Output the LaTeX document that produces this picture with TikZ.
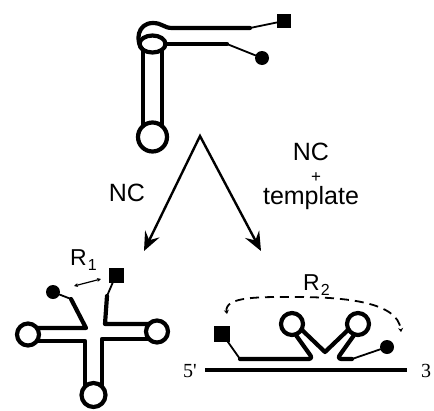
\documentclass[tikz,border=0pt]{standalone}
\usepackage{fontspec}
\setmainfont{Liberation Sans}
\newfontfamily\endfont{Liberation Serif}
\usetikzlibrary{arrows.meta}
\begin{document}
\begin{tikzpicture}[x=1pt,y=-1pt,
  strand/.style={line width=4.2pt, line join=round, line cap=round},
  tether/.style={line width=1.8pt, line cap=round},
  endsquare/.style={fill=black, draw=none, minimum size=14pt, inner sep=0pt, outer sep=0pt},
  enddot/.style={circle, fill=black, draw=none, minimum size=14pt, inner sep=0pt, outer sep=0pt},
  fork/.style={line width=2.4pt, line join=miter,
    {Stealth[length=19pt,width=16pt,inset=7pt]}-{Stealth[length=19pt,width=16pt,inset=7pt]}},
  bigtext/.style={font=\fontsize{25}{22}\selectfont, inner sep=0pt},
  rlabel/.style={font=\fontsize{23}{23}\selectfont, inner sep=0pt, anchor=base west},
  endlabel/.style={font=\endfont\fontsize{20}{20}\selectfont, inner sep=0pt},
  span/.style={line width=1.8pt, dash pattern=on 9pt off 6pt, line cap=butt,
    {Stealth[length=4pt,width=5pt]}-{Stealth[length=4pt,width=5pt]}},
  tiny/.style={line width=1.2pt, {Stealth[length=4pt,width=4pt]}-{Stealth[length=4pt,width=4pt]}}]
\useasboundingbox (0,0) rectangle (434,410);

% ---------- precursor hairpin ----------
\node[endsquare] (sqA) at (284,21) {};
\node[enddot] (dotA) at (262,58) {};
\draw[strand] (143,50) -- (143,126);
\draw[strand] (162,50) -- (162,126);
\draw[strand] (152.5,137) circle[radius=14.5pt];
\draw[strand] (152.5,44) ellipse[x radius=13pt, y radius=8.5pt];
\coordinate (armA) at (250,28);
\coordinate (armB) at (227,44);
\draw[strand] (143,50) .. controls (135,42) and (137,23) .. (153,23)
  .. controls (162,23) and (164,28) .. (172,28) -- (armA);
\draw[strand] (165.5,44) -- (armB);
\draw[tether] (armA) -- (sqA);
\draw[tether] (armB) -- (dotA);

% ---------- reaction arrows ----------
\coordinate (apex) at (200,136);
\coordinate (tipL) at (144,251);
\coordinate (tipR) at (261,251);
\draw[fork] (tipL) -- (apex) -- (tipR);
\node[bigtext, anchor=base] (ncL) at (127,201) {NC};
\node[bigtext, align=center] (ncR) at (311,176.7)
  {NC\\\hspace*{10pt}{\fontsize{17}{22}\selectfont +}\\template};

% ---------- cloverleaf product ----------
\node[enddot] (dotB) at (53,292) {};
\node[endsquare, minimum size=15pt] (sqB) at (116,275) {};
\coordinate (lb) at (71,299);
\coordinate (rb) at (107,296);
\draw[tether] (dotB) -- (lb);
\draw[strand] (lb) -- (86,328) -- (37,328);
\draw[strand] (28,334.5) circle[radius=11pt];
\draw[strand] (37,341) -- (85,341) -- (85,386.5);
\draw[strand] (93.5,395) circle[radius=12pt];
\draw[strand] (102,386.5) -- (102,339) -- (149,339);
\draw[strand] (157,331.5) circle[radius=11pt];
\draw[strand] (149,324) -- (105,324) -- (rb);
\draw[tether] (rb) -- (sqB);
\coordinate (r1a) at (74,286);
\coordinate (r1b) at (101,279);
\draw[tiny] (r1a) -- (r1b);
\node[rlabel] (r1) at (70,265) {R\hspace{1pt}\raisebox{-5pt}{\fontsize{16}{16}\selectfont 1}};

% ---------- template-bound product ----------
\coordinate (t5) at (205,370);
\coordinate (t3) at (407,370);
\draw[line width=4.5pt] (t5) -- (t3);
\node[endlabel, anchor=base east] (five) at (197,377) {5'};
\node[endlabel, anchor=base] (three) at (426,377) {3};
\node[endsquare, minimum size=16pt] (sqC) at (222,333.5) {};
\node[enddot] (dotC) at (387,347) {};
\coordinate (lc) at (240,359);
\coordinate (rc) at (352,359);
\draw[tether] (sqC) -- (lc);
\draw[strand, rounded corners=4pt] (lc) -- (313,359) -- (295.5,334.5);
\draw[strand] (292,324) circle[radius=11pt];
\draw[strand] (301.5,329.5) -- (325,352) -- (348.5,329.5);
\draw[strand] (358,324) circle[radius=11pt];
\draw[strand, rounded corners=4pt] (354.5,334.5) -- (337,359) -- (rc);
\draw[tether] (rc) -- (dotC);
\coordinate (s1) at (227,314);
\coordinate (s2) at (401,332);
\draw[span] (s1) .. controls (224,296) and (262,297) .. (295,297)
  .. controls (345,297) and (398,302) .. (s2);
\node[rlabel] (r2) at (303,290) {R\hspace{1pt}\raisebox{-5pt}{\fontsize{16}{16}\selectfont 2}};
\end{tikzpicture}
\end{document}
